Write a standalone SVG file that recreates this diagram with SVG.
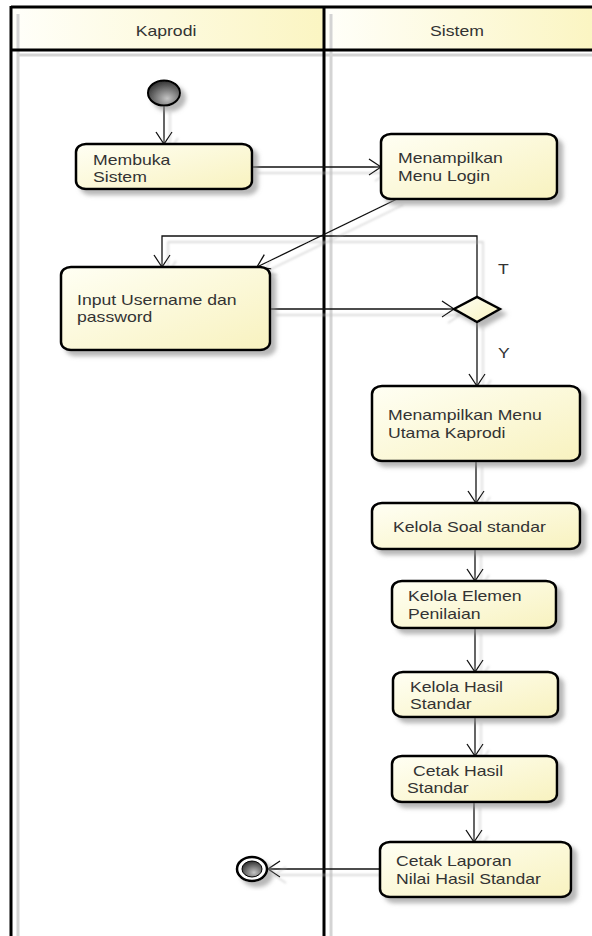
<svg xmlns="http://www.w3.org/2000/svg" width="592" height="936" viewBox="0 0 592 936">
<style>
.lane{stroke:#000;stroke-width:3;fill:none}
.lshadow{stroke:#d4d4d4;stroke-width:3;fill:none}
.node{fill:url(#nodeFill);stroke:#000;stroke-width:2.5;filter:url(#shadow)}
.conn{stroke:#111;stroke-width:1.3;fill:none;marker-end:url(#arrow)}
.t{font-family:"Liberation Sans",Arial,sans-serif;font-size:14px;fill:#333}
</style>
<defs>
<linearGradient id="nodeFill" x1="0" y1="0" x2="1" y2="1">
<stop offset="0" stop-color="#fffff4"/>
<stop offset="1" stop-color="#f8f2bf"/>
</linearGradient>
<linearGradient id="headFill" x1="0" y1="0" x2="1" y2="0">
<stop offset="0" stop-color="#fffffa"/>
<stop offset="1" stop-color="#fbf5c2"/>
</linearGradient>
<radialGradient id="startFill" cx="0.6" cy="0.72" r="0.75">
<stop offset="0" stop-color="#c4c4c4"/>
<stop offset="1" stop-color="#2a2a2a"/>
</radialGradient>
<filter id="shadow" x="-20%" y="-20%" width="150%" height="160%">
<feDropShadow dx="5" dy="5" stdDeviation="2" flood-color="#888" flood-opacity="0.6"/>
</filter>
<filter id="lshadow" x="-20%" y="-20%" width="150%" height="150%">
<feDropShadow dx="6" dy="6" stdDeviation="0.8" flood-color="#bbb" flood-opacity="0.7"/>
</filter>
<marker id="arrow" markerUnits="userSpaceOnUse" markerWidth="15" markerHeight="18" viewBox="0 0 15 18" refX="13" refY="9" orient="auto">
<path d="M1,1 L13,9 L1,17" fill="none" stroke="#111" stroke-width="1.3"/>
</marker>
</defs>

<g id="swimlanes">
<rect x="11" y="7" width="313" height="43" fill="url(#headFill)"/>
<rect x="324" y="7" width="270" height="43" fill="url(#headFill)"/>
<line class="lshadow" x1="18" y1="55" x2="592" y2="55"/>
<line class="lshadow" x1="18" y1="14" x2="18" y2="936"/>
<line class="lshadow" x1="331" y1="14" x2="331" y2="936"/>
<line class="lane" x1="11" y1="7" x2="594" y2="7"/>
<line class="lane" x1="11" y1="50" x2="594" y2="50"/>
<line class="lane" x1="11" y1="6" x2="11" y2="936"/>
<line class="lane" x1="324" y1="6" x2="324" y2="936"/>
<text class="t" text-anchor="middle" transform="translate(166,36) scale(1.26,1)">Kaprodi</text>
<text class="t" text-anchor="middle" transform="translate(457,36) scale(1.26,1)">Sistem</text>
</g>

<g id="connectors">
<g filter="url(#lshadow)">
<line class="conn" x1="164" y1="106" x2="164" y2="144"/>
<line class="conn" x1="252" y1="167" x2="381" y2="167"/>
<line class="conn" x1="397" y1="199" x2="257" y2="267"/>
<line class="conn" x1="270" y1="309" x2="454" y2="309"/>
<polyline class="conn" points="477,297 477,236 162,236 162,267"/>
<line class="conn" x1="477" y1="322" x2="477" y2="386"/>
<line class="conn" x1="476" y1="461" x2="476" y2="503"/>
<line class="conn" x1="475" y1="549" x2="475" y2="581"/>
<line class="conn" x1="475" y1="628" x2="475" y2="672"/>
<line class="conn" x1="475" y1="717" x2="475" y2="756"/>
<line class="conn" x1="474" y1="802" x2="474" y2="842"/>
<line class="conn" x1="380" y1="869" x2="268" y2="869"/>
</g>
<text class="t" transform="translate(498,274) scale(1.26,1)">T</text>
<text class="t" transform="translate(498,358) scale(1.26,1)">Y</text>
</g>

<g id="start">
<ellipse cx="164" cy="93" rx="16" ry="12.5" fill="url(#startFill)" stroke="#000" stroke-width="2" filter="url(#shadow)"/>
</g>

<g id="membuka-sistem">
<rect class="node" x="76" y="144" width="176" height="45" rx="10" ry="8"/>
<text class="t" transform="translate(93,165) scale(1.26,1)">Membuka</text>
<text class="t" transform="translate(93,182) scale(1.26,1)">Sistem</text>
</g>

<g id="menampilkan-menu-login">
<rect class="node" x="381" y="134" width="176" height="65" rx="10" ry="8"/>
<text class="t" transform="translate(398,163) scale(1.26,1)">Menampilkan</text>
<text class="t" transform="translate(398,181) scale(1.26,1)">Menu Login</text>
</g>

<g id="input-username">
<rect class="node" x="61" y="267" width="209" height="83" rx="10" ry="8"/>
<text class="t" transform="translate(77,305) scale(1.26,1)">Input Username dan</text>
<text class="t" transform="translate(77,322) scale(1.26,1)">password</text>
</g>

<g id="decision">
<polygon points="454,309 477,297 500,309 477,322" fill="url(#nodeFill)" stroke="#000" stroke-width="2.5" filter="url(#shadow)"/>
</g>

<g id="menu-utama">
<rect class="node" x="372" y="386" width="208" height="75" rx="10" ry="8"/>
<text class="t" transform="translate(388,420) scale(1.26,1)">Menampilkan Menu</text>
<text class="t" transform="translate(388,438) scale(1.26,1)">Utama Kaprodi</text>
</g>

<g id="kelola-soal">
<rect class="node" x="372" y="503" width="208" height="46" rx="10" ry="8"/>
<text class="t" transform="translate(393,532) scale(1.26,1)">Kelola Soal standar</text>
</g>

<g id="kelola-elemen">
<rect class="node" x="392" y="581" width="164" height="47" rx="10" ry="8"/>
<text class="t" transform="translate(408,601) scale(1.26,1)">Kelola Elemen</text>
<text class="t" transform="translate(408,619) scale(1.26,1)">Penilaian</text>
</g>

<g id="kelola-hasil">
<rect class="node" x="393" y="672" width="165" height="45" rx="10" ry="8"/>
<text class="t" transform="translate(410,692) scale(1.26,1)">Kelola Hasil</text>
<text class="t" transform="translate(410,709) scale(1.26,1)">Standar</text>
</g>

<g id="cetak-hasil">
<rect class="node" x="392" y="756" width="165" height="46" rx="10" ry="8"/>
<text class="t" transform="translate(413,776) scale(1.26,1)">Cetak Hasil</text>
<text class="t" transform="translate(407,793) scale(1.26,1)">Standar</text>
</g>

<g id="cetak-laporan">
<rect class="node" x="380" y="842" width="191" height="55" rx="10" ry="8"/>
<text class="t" transform="translate(396,866) scale(1.26,1)">Cetak Laporan</text>
<text class="t" transform="translate(396,884) scale(1.26,1)">Nilai Hasil Standar</text>
</g>

<g id="end">
<ellipse cx="252" cy="869" rx="15" ry="12" fill="#fff" stroke="#000" stroke-width="2.5" filter="url(#shadow)"/>
<ellipse cx="252" cy="869" rx="10" ry="8" fill="url(#startFill)" stroke="#000" stroke-width="1"/>
</g>
</svg>
